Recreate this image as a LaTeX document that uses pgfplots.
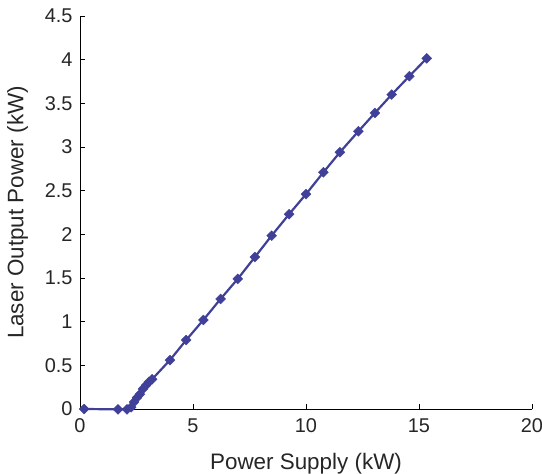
\documentclass[border=0pt]{standalone}
\usepackage{fontspec}
\setmainfont{Liberation Sans}
\usepackage{pgfplots}
\pgfplotsset{compat=1.18}
\definecolor{lineblue}{RGB}{64,64,152}
\begin{document}
\begin{tikzpicture}
\begin{axis}[
  name=ax,
  scale only axis,
  width=452bp, height=393bp,
  xmin=0, xmax=20, ymin=0, ymax=4.5,
  axis lines*=left,
  axis line style={black, line width=0.9pt},
  tick align=inside,
  major tick length=5bp,
  tick style={black, line width=0.9pt},
  xtick={0,5,10,15,20},
  ytick={0,0.5,1,1.5,2,2.5,3,3.5,4,4.5},
  yticklabels={0,0.5,1,1.5,2,2.5,3,3.5,4,4.5},
  xticklabels={0,5,10,15,20},
  /pgf/number format/assume math mode=true,
  tick label style={font=\fontsize{20}{24}\selectfont, text=black!85},
  xticklabel style={yshift=-6bp},
  yticklabel style={xshift=-4bp},
  label style={font=\fontsize{22.5}{26}\selectfont, text=black!85},
  xlabel={Power Supply (kW)},
  ylabel={Laser Output Power (kW)},
  xlabel style={yshift=-14bp},
  ylabel style={yshift=10bp},
  clip=false,
]
\addplot[color=lineblue, line width=2.2bp, mark=square*, mark size=3.5bp, mark options={fill=lineblue, draw=lineblue, line width=0.4pt, rotate=45}]
coordinates {
(0.18,0.00)
(1.68,-0.004)
(2.08,-0.004)
(2.26,0.02)
(2.39,0.08)
(2.52,0.13)
(2.65,0.17)
(2.79,0.23)
(2.92,0.27)
(3.05,0.31)
(3.19,0.34)
(3.98,0.56)
(4.70,0.79)
(5.46,1.02)
(6.22,1.26)
(6.98,1.49)
(7.74,1.74)
(8.48,1.985)
(9.25,2.23)
(10.00,2.46)
(10.77,2.71)
(11.50,2.94)
(12.32,3.18)
(13.05,3.39)
(13.79,3.60)
(14.57,3.81)
(15.34,4.015)
};
\end{axis}
\pgfresetboundingbox
\useasboundingbox ([xshift=-80bp,yshift=-65bp]ax.south west) rectangle ([xshift=10bp,yshift=16bp]ax.north east);
\end{tikzpicture}
\end{document}
